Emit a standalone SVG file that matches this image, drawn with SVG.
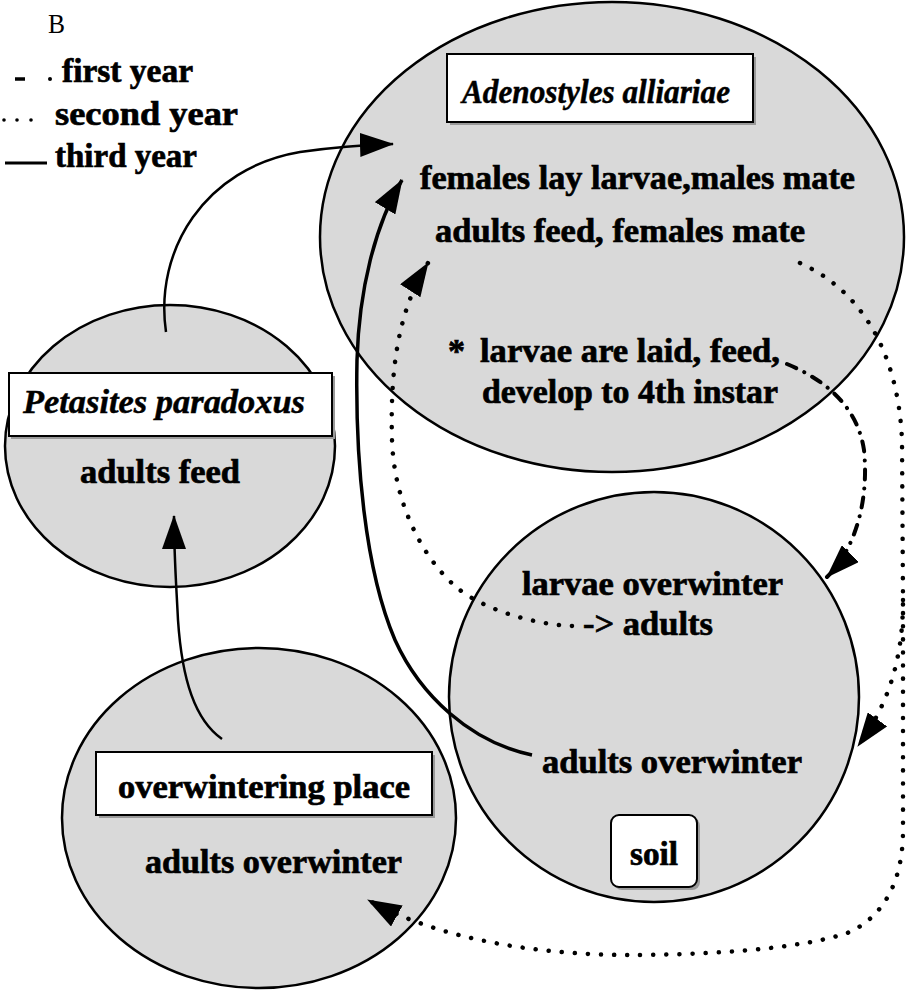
<svg xmlns="http://www.w3.org/2000/svg" width="907" height="999" viewBox="0 0 907 999">
<style>
  .bg { fill: #ffffff; }
  .circ { fill: #d9d9d9; stroke: #000; stroke-width: 2.5; }
  .box { fill: #ffffff; stroke: #000; stroke-width: 2; }
  .shadow { fill: #9a9a9a; }
  .t { font-family: "Liberation Serif", "Times New Roman", serif; font-weight: bold; font-size: 34px; fill: #000; stroke: #000; stroke-width: 0.7; }
  .ti { font-family: "Liberation Serif", "Times New Roman", serif; font-weight: bold; font-style: italic; font-size: 34px; fill: #000; stroke: #000; stroke-width: 0.5; }
  .tr { font-family: "Liberation Serif", "Times New Roman", serif; font-size: 27px; fill: #000; }
  .solid { fill: none; stroke: #000; stroke-width: 2.5; }
  .solidthick { fill: none; stroke: #000; stroke-width: 3.5; }
  .dotted { fill: none; stroke: #000; stroke-width: 4.5; stroke-linecap: round; stroke-dasharray: 0.1 13; }
  .dashdot { fill: none; stroke: #000; stroke-width: 4; stroke-linecap: round; stroke-dasharray: 10 9 0.1 9; }
</style>
<defs>
  <marker id="ah" markerUnits="userSpaceOnUse" viewBox="0 0 34 24" refX="33" refY="12" markerWidth="34" markerHeight="24" orient="auto">
    <path d="M0,0 L34,12 L0,24 Z" fill="#000"/>
  </marker>
</defs>
<rect class="bg" x="0" y="0" width="907" height="999"/>

<g id="legend">
  <text class="tr" x="48" y="33" textLength="17" lengthAdjust="spacingAndGlyphs">B</text>
  <line x1="15" y1="79" x2="25" y2="79" stroke="#000" stroke-width="3.5"/>
  <circle cx="50" cy="79" r="2" fill="#000"/>
  <text class="t" x="62" y="82" textLength="131" lengthAdjust="spacingAndGlyphs">first year</text>
  <circle cx="4" cy="120" r="1.8" fill="#000"/>
  <circle cx="17" cy="120" r="1.8" fill="#000"/>
  <circle cx="31" cy="120" r="1.8" fill="#000"/>
  <text class="t" x="55" y="125" textLength="183" lengthAdjust="spacingAndGlyphs">second year</text>
  <line x1="5" y1="163" x2="47" y2="163" stroke="#000" stroke-width="3"/>
  <text class="t" x="55" y="167" textLength="142" lengthAdjust="spacingAndGlyphs">third year</text>
</g>

<g id="adenostyles">
  <ellipse class="circ" cx="612" cy="237" rx="292" ry="235" stroke-width="3.2"/>
  <rect class="shadow" x="450" y="57" width="306" height="68"/>
  <rect class="box" x="447" y="54" width="306" height="68"/>
  <text class="ti" x="462" y="103" textLength="268" lengthAdjust="spacingAndGlyphs">Adenostyles alliariae</text>
  <text class="t" x="420" y="189" textLength="435" lengthAdjust="spacingAndGlyphs">females lay larvae,males mate</text>
  <text class="t" x="435" y="242" textLength="370" lengthAdjust="spacingAndGlyphs">adults feed, females mate</text>
  <text class="t" x="448" y="362">*</text>
  <text class="t" x="480" y="362" textLength="300" lengthAdjust="spacingAndGlyphs">larvae are laid, feed,</text>
  <text class="t" x="482" y="403" textLength="296" lengthAdjust="spacingAndGlyphs">develop to 4th instar</text>
</g>

<g id="petasites">
  <ellipse class="circ" cx="170" cy="446" rx="165" ry="141"/>
  <rect class="shadow" x="11" y="376" width="324" height="63"/>
  <rect class="box" x="9" y="373" width="323" height="63"/>
  <text class="ti" x="23" y="413" textLength="282" lengthAdjust="spacingAndGlyphs">Petasites paradoxus</text>
  <text class="t" x="80" y="483" textLength="160" lengthAdjust="spacingAndGlyphs">adults feed</text>
</g>

<g id="soil">
  <circle class="circ" cx="654" cy="697" r="205"/>
  <text class="t" x="522" y="595" textLength="261" lengthAdjust="spacingAndGlyphs">larvae overwinter</text>
  <text class="t" x="583" y="635" textLength="130" lengthAdjust="spacingAndGlyphs">-&gt; adults</text>
  <text class="t" x="542" y="773" textLength="260" lengthAdjust="spacingAndGlyphs">adults overwinter</text>
  <rect class="shadow" x="614" y="818" width="86" height="72" rx="8"/>
  <rect class="box" x="611" y="815" width="86" height="72" rx="8" stroke-width="3"/>
  <text class="t" x="630" y="865" textLength="48" lengthAdjust="spacingAndGlyphs">soil</text>
</g>

<g id="overwintering">
  <ellipse class="circ" cx="259" cy="818" rx="197" ry="170"/>
  <rect class="shadow" x="99" y="755" width="336" height="63"/>
  <rect class="box" x="96" y="752" width="336" height="63"/>
  <text class="t" x="118" y="798" textLength="292" lengthAdjust="spacingAndGlyphs">overwintering place</text>
  <text class="t" x="145" y="873" textLength="257" lengthAdjust="spacingAndGlyphs">adults overwinter</text>
</g>

<g id="connectors">
  <path class="solid" d="M166,332 C154,250 205,168 300,152 C335,147 360,145 393,144" marker-end="url(#ah)"/>
  <path class="solid" d="M222,739 C195,720 182,680 178,620 C176,580 174,555 174,516" marker-end="url(#ah)"/>
  <path class="solidthick" d="M532,755 C470,742 420,695 395,640 C365,570 355,460 357,360 C359,290 375,225 402,180" marker-end="url(#ah)"/>
  <path class="dashdot" d="M787,364 C830,382 858,410 864,450 C869,500 856,548 827,577" marker-end="url(#ah)"/>
  <path class="dotted" d="M572,626 C530,624 480,608 455,586 C420,555 394,500 392,440 C390,370 398,310 428,263" marker-end="url(#ah)"/>
  <path class="dotted" d="M800,263 C860,290 898,350 902,440 L903,600 C903,660 888,705 858,746" marker-end="url(#ah)"/>
  <path class="dotted" d="M903,600 L903,830 C903,880 885,915 850,932 C800,950 700,955 630,955 C540,955 440,940 368,900" marker-end="url(#ah)"/>
</g>
</svg>
